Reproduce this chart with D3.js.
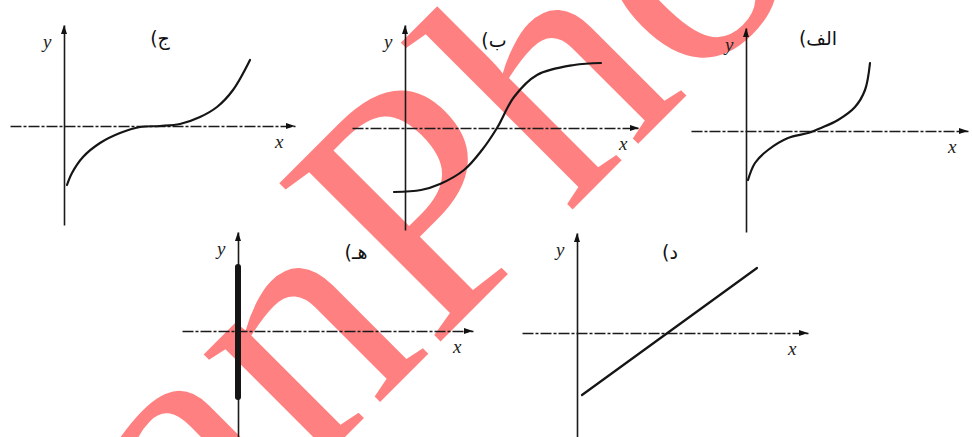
<!DOCTYPE html>
<html>
<head>
<meta charset="utf-8">
<script src="https://d3js.org/d3.v7.min.js"></script>
<style>
  body { margin: 0; background: #fff; }
  svg { display: block; }
  .ax path { stroke: #1a1a1a; stroke-width: 1.6; }
  .xax path { stroke-dasharray: 11,2,3,2; }
  .curve { fill: none; stroke: #151515; stroke-linecap: round; }
  .var { font-family: "Liberation Serif", serif; font-style: italic; font-size: 19px; fill: #222; }
  .lab { font-family: "DejaVu Sans", sans-serif; font-size: 19px; fill: #111; }
  .wm { font-family: "Liberation Serif", serif; font-size: 345px; fill: #ff8080; }
</style>
</head>
<body>
<script>
// values, in grid units (1 unit = 10 px), origin at the axes crossing
var UNIT = 10;
var labels = ["الف)", "ب)", "ج)", "د)", "هـ)"];

var curveAlef = [[0.2,-4.9],[0.9,-3.2],[2.2,-1.9],[4.2,-0.7],[6.2,-0.2],[7.5,0.3],[9.2,1.1],[10.9,2.4],[11.9,4.1],[12.4,6.8]];
var curveBe   = [[-1.1,-6.4],[1.6,-6.2],[3.5,-5.6],[5.9,-4.2],[7.7,-2.2],[9.2,0],[10.9,3.1],[13.2,5.3],[16.9,6.3],[19.6,6.5]];
var curveJim  = [[0.3,-5.9],[0.8,-4.7],[1.9,-3.1],[3.6,-1.7],[5.6,-0.7],[7.6,-0.1],[9.6,0],[11.6,0.2],[13.6,0.9],[15.3,1.9],[16.9,3.6],[18.6,6.6]];
var lineDal   = [[0.5,-6.2],[18,6.5]];
var lineHe    = [[0,6.4],[0,-6.6]];

var xExtents = [[-5.5,22.2],[-5.3,23.4],[-5.4,23.1],[-5.5,23.1],[-5.6,23.5]];
var yExtents = [[-10.1,10.3],[-10.2,10.3],[-9.9,10.1],[-10.4,10.0],[-10.6,9.9]];

var width = 972, height = 437;

var svg = d3.select("body").append("svg")
  .attr("width", width)
  .attr("height", height);

// watermark behind the drawing, split at the capital so it can be placed
var wm = svg.append("g").attr("transform", "translate(432,350) rotate(-45)");
wm.append("text").attr("class", "wm").attr("text-anchor", "end").text("Iran");
wm.append("text").attr("class", "wm").text("Photo");

var panels = [
  {label: labels[0], ox: 746, oy: 131, data: curveAlef, lx: 818, ly: 45},
  {label: labels[1], ox: 405, oy: 128, data: curveBe,   lx: 494, ly: 47},
  {label: labels[2], ox: 64,  oy: 126, data: curveJim,  lx: 160, ly: 45},
  {label: labels[3], ox: 577, oy: 333, data: lineDal,   lx: 670, ly: 259},
  {label: labels[4], ox: 238, oy: 331, data: lineHe,    lx: 356, ly: 259, thick: true}
];

panels.forEach(function(p, i) {
  var xe = xExtents[i], ye = yExtents[i];
  var x = d3.scaleLinear().domain(xe).range([p.ox + xe[0] * UNIT, p.ox + xe[1] * UNIT]);
  var y = d3.scaleLinear().domain(ye).range([p.oy - ye[0] * UNIT, p.oy - ye[1] * UNIT]);
  var g = svg.append("g");

  g.append("g")
    .attr("class", "ax xax")
    .attr("transform", "translate(0," + y(0) + ")")
    .call(d3.axisBottom(x).tickValues([]).tickSizeOuter(0));

  g.append("g")
    .attr("class", "ax")
    .attr("transform", "translate(" + x(0) + ",0)")
    .call(d3.axisLeft(y).tickValues([]).tickSizeOuter(0));

  // arrow heads
  var ax = x(xe[1]), ay = y(0);
  g.append("path").attr("fill", "#111")
    .attr("d", "M" + ax + "," + ay + "l-9,-3l0,6z");
  var bx = x(0), by = y(ye[1]);
  g.append("path").attr("fill", "#111")
    .attr("d", "M" + bx + "," + by + "l-3,9l6,0z");

  g.append("text").attr("class", "var")
    .attr("x", x(0) - 21).attr("y", y(ye[1]) + 23).text("y");
  g.append("text").attr("class", "var")
    .attr("x", x(xe[1]) - 20).attr("y", y(0) + 22).text("x");

  g.append("text").attr("class", "lab")
    .attr("x", p.lx).attr("y", p.ly)
    .attr("text-anchor", "middle")
    .attr("direction", "rtl")
    .text(p.label);

  var line = d3.line()
    .x(function(d) { return x(d[0]); })
    .y(function(d) { return y(d[1]); })
    .curve(d3.curveCatmullRom);

  g.append("path")
    .attr("class", "curve")
    .style("stroke-width", p.thick ? 6 : 2.2)
    .attr("d", line(p.data));
});
</script>
</body>
</html>
